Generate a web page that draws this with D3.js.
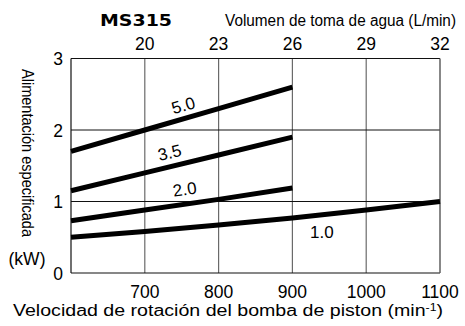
<!DOCTYPE html>
<html>
<head>
<meta charset="utf-8">
<script src="https://cdn.jsdelivr.net/npm/d3@7"></script>
<style>
  html, body { margin: 0; padding: 0; background: #fff; }
  svg { display: block; font-family: "Liberation Sans", Arial, Helvetica, sans-serif; }
</style>
</head>
<body>
<svg id="chart" width="465" height="326"></svg>
<script>
// Pump speed (min^-1) and matching water intake (L/min)
const speedTicks = [700, 800, 900, 1000, 1100];
const flowTicks = ["20", "23", "26", "29", "32"];
const powerTicks = [0, 1, 2, 3];

// Required power (kW) per pressure curve
const curveNames = ["5.0", "3.5", "2.0", "1.0"];
const speed5_0 = [600, 700, 800, 900];
const power5_0 = [1.70, 2.00, 2.30, 2.60];
const speed3_5 = [600, 700, 800, 900];
const power3_5 = [1.15, 1.40, 1.65, 1.90];
const speed2_0 = [600, 700, 800, 900];
const power2_0 = [0.73, 0.88, 1.03, 1.19];
const speed1_0 = [600, 700, 800, 900, 1000, 1100];
const power1_0 = [0.50, 0.58, 0.67, 0.77, 0.88, 1.00];

// Label anchor: speed along the curve and offset above it
const curves = [
  { name: curveNames[0], xs: speed5_0, ys: power5_0, at: 757, dy: -7 },
  { name: curveNames[1], xs: speed3_5, ys: power3_5, at: 738, dy: -8 },
  { name: curveNames[2], xs: speed2_0, ys: power2_0, at: 757, dy: -9 },
  { name: curveNames[3], xs: speed1_0, ys: power1_0, at: 940, dy: 0, flat: true, y: 232 }
];

const svg = d3.select("#chart");
const x = d3.scaleLinear().domain([600, 1100]).range([71, 440]);
const y = d3.scaleLinear().domain([0, 3]).range([273, 58.5]);

const g = svg.append("g");

// Vertical grid lines
g.selectAll("line.vgrid").data(speedTicks.slice(0, 4)).enter().append("line")
  .attr("x1", d => x(d)).attr("x2", d => x(d))
  .attr("y1", y(3)).attr("y2", y(0))
  .attr("stroke", "#6a6a6a").attr("stroke-width", 1.2);

// Horizontal grid lines
g.selectAll("line.hgrid").data([1, 2]).enter().append("line")
  .attr("x1", x(600)).attr("x2", x(1100))
  .attr("y1", d => y(d)).attr("y2", d => y(d))
  .attr("stroke", "#111").attr("stroke-width", 1);

// Frame
g.append("line").attr("x1", x(600)).attr("x2", x(1100)).attr("y1", y(3)).attr("y2", y(3))
  .attr("stroke", "#111").attr("stroke-width", 1.2);
g.append("line").attr("x1", x(600)).attr("x2", x(1100)).attr("y1", y(0)).attr("y2", y(0))
  .attr("stroke", "#111").attr("stroke-width", 1.2);
g.append("line").attr("x1", x(600)).attr("x2", x(600)).attr("y1", y(3)).attr("y2", y(0))
  .attr("stroke", "#111").attr("stroke-width", 1.2);
g.append("line").attr("x1", x(1100)).attr("x2", x(1100)).attr("y1", y(3)).attr("y2", y(0))
  .attr("stroke", "#555").attr("stroke-width", 1.4);

// Curves
const line = d3.line().x(d => x(d[0])).y(d => y(d[1]));
curves.forEach(c => {
  const pts = c.xs.map((v, i) => [v, c.ys[i]]);
  g.append("path").datum(pts)
    .attr("d", line)
    .attr("fill", "none")
    .attr("stroke", "#000")
    .attr("stroke-width", 5);
});

// Curve labels, tilted along their curve
curves.forEach(c => {
  const interp = d3.scaleLinear().domain(c.xs).range(c.ys);
  const px = x(c.at), py = y(interp(c.at));
  const ang = Math.atan2(y(c.ys[c.ys.length - 1]) - y(c.ys[0]), x(c.xs[c.xs.length - 1]) - x(c.xs[0])) * 180 / Math.PI;
  if (c.flat) {
    g.append("text").attr("x", px).attr("y", c.y).attr("text-anchor", "middle")
      .attr("dominant-baseline", "central").attr("font-size", 17).text(c.name);
  } else {
    g.append("text")
      .attr("transform", `translate(${px},${py}) rotate(${ang}) translate(0,${c.dy})`)
      .attr("text-anchor", "middle")
      .attr("font-size", 17).text(c.name);
  }
});

// Bottom axis tick labels
svg.selectAll("text.xt").data(speedTicks).enter().append("text")
  .attr("x", d => x(d)).attr("y", 297.5)
  .attr("text-anchor", "middle").attr("font-size", 17.5)
  .text(d => d);

// Top axis tick labels (water intake)
svg.selectAll("text.tt").data(speedTicks).enter().append("text")
  .attr("x", d => x(d)).attr("y", 49.5)
  .attr("text-anchor", "middle").attr("font-size", 17.5)
  .text((d, i) => flowTicks[i]);

// Left axis tick labels
svg.selectAll("text.yt").data(powerTicks).enter().append("text")
  .attr("x", 63).attr("y", d => y(d) + 6.5)
  .attr("text-anchor", "end").attr("font-size", 17.5)
  .text(d => d);

// Titles
svg.append("text").attr("x", 100).attr("y", 25.5)
  .attr("font-family", "'DejaVu Sans', sans-serif").attr("font-weight", "bold")
  .attr("font-size", 16.5).attr("textLength", 72).attr("lengthAdjust", "spacingAndGlyphs")
  .text("MS315");

svg.append("text").attr("x", 225).attr("y", 25.5)
  .attr("font-size", 16).attr("textLength", 231).attr("lengthAdjust", "spacingAndGlyphs")
  .text("Volumen de toma de agua (L/min)");

svg.append("text")
  .attr("transform", "translate(22,69) rotate(90)")
  .attr("font-size", 16).attr("textLength", 168).attr("lengthAdjust", "spacingAndGlyphs")
  .text("Alimentación especificada");

svg.append("text").attr("x", 27).attr("y", 265)
  .attr("text-anchor", "middle").attr("font-size", 17.5)
  .text("(kW)");

const xl = svg.append("text").attr("x", 13).attr("y", 316)
  .attr("font-size", 16).attr("textLength", 430).attr("lengthAdjust", "spacingAndGlyphs");
xl.append("tspan").text("Velocidad de rotación del bomba de piston (min");
xl.append("tspan").attr("font-size", 10).attr("dy", -5).text("-1");
xl.append("tspan").attr("dy", 5).text(")");
</script>
</body>
</html>
